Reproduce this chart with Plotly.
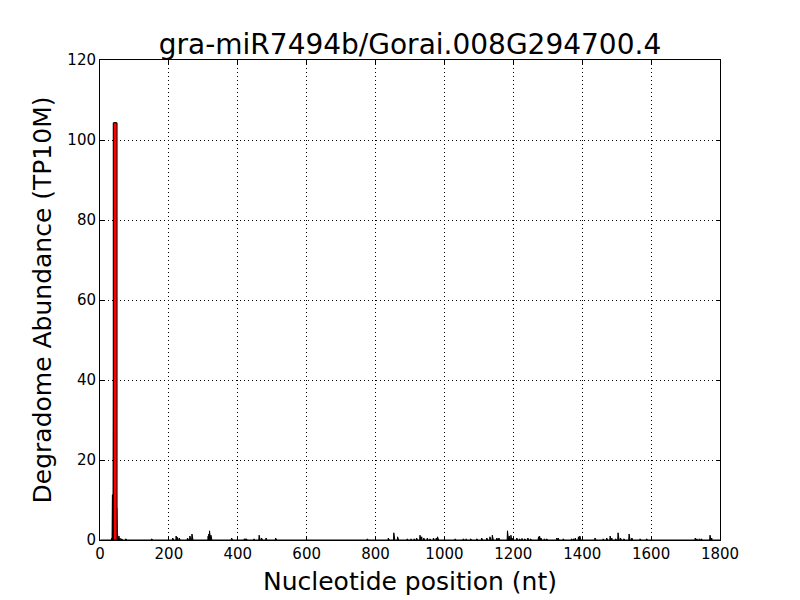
import plotly.graph_objects as go

title = "gra-miR7494b/Gorai.008G294700.4"
seq_length = 1800

# degradome tag positions (nt) and abundances (TP10M)
positions = [34, 36, 37, 39, 40, 41, 42, 43, 44, 45, 46, 47, 48, 49, 50, 52, 55, 58, 63, 75,
             150, 211, 221, 224, 230, 254, 261, 267, 314, 316, 318, 320, 322, 324, 382, 419, 422, 425,
             447, 462, 469, 482, 510, 776, 837, 853, 864, 892, 903, 912, 919, 929, 934, 940, 950,
             958, 968, 976, 980, 1031, 1055, 1063, 1076, 1094, 1108, 1123, 1132, 1139, 1152, 1158,
             1183, 1188, 1193, 1196, 1210, 1218, 1225, 1233, 1242, 1250, 1273, 1276, 1280, 1290,
             1297, 1326, 1330, 1345, 1369, 1375, 1380, 1389, 1393, 1437, 1461, 1471, 1481, 1486,
             1497, 1504, 1511, 1521, 1536, 1544, 1568, 1587, 1728, 1733, 1740, 1746, 1771, 1776]
abundance = [0.5, 11.3, 11.3, 104.3, 104.3, 104.3, 104.3, 104.3, 104.3, 104.3, 104.3, 104.3, 8.0, 8.0, 2.0, 1.5, 1.0, 0.5, 0.3, 0.3,
             0.3, 0.5, 1.0, 0.7, 0.5, 0.5, 1.0, 1.5, 1.0, 1.5, 2.3, 2.0, 1.2, 0.5, 0.5, 0.3, 0.3, 0.3,
             0.3, 1.2, 0.5, 0.5, 0.5, 0.3, 0.5, 1.8, 0.8, 0.3, 0.3, 0.3, 0.5, 1.2, 0.8, 0.5, 0.5,
             0.3, 0.5, 0.5, 0.8, 0.3, 0.3, 0.3, 0.3, 0.3, 0.5, 0.5, 0.8, 1.2, 0.5, 0.5,
             2.3, 1.0, 1.2, 0.5, 0.5, 0.3, 0.4, 0.3, 0.5, 0.3, 0.8, 1.0, 0.5, 0.3,
             0.3, 0.5, 0.5, 0.3, 0.3, 0.3, 0.5, 0.8, 1.0, 0.5, 0.3, 0.5, 1.0, 0.5,
             0.3, 1.8, 0.5, 0.3, 1.5, 0.5, 0.3, 0.3, 0.5, 0.3, 0.3, 0.3, 1.2, 0.5]

# cleavage site
site_pos = 44
site_abund = 104.3
site_width = 11

xticks = list(range(0, 1801, 200))
yticks = list(range(0, 121, 20))

# dense profile along the transcript
dense_x = list(range(1, seq_length + 1))
lookup = dict(zip(positions, abundance))
dense_y = [lookup.get(p, 0) for p in dense_x]

fig = go.Figure()
fig.add_trace(go.Scatter(x=dense_x, y=dense_y, mode="lines", fill="tozeroy",
                         line=dict(color="black", width=1), fillcolor="black",
                         hoverinfo="x+y", showlegend=False))
half = site_width / 2
fig.add_trace(go.Scatter(x=[site_pos - half, site_pos - half, site_pos + half, site_pos + half, site_pos - half],
                         y=[0, site_abund, site_abund, 0, 0], mode="lines", fill="toself",
                         fillcolor="red", line=dict(color="black", width=1), showlegend=False))

axis_common = dict(showline=True, linecolor="black", linewidth=1, mirror="allticks",
                   ticks="inside", ticklen=4, tickcolor="black", tickwidth=1,
                   showgrid=True, gridcolor="black", gridwidth=1, griddash="1px,3px",
                   zeroline=False, automargin=False,
                   tickfont=dict(family="DejaVu Sans", size=15, color="black"))

fig.update_xaxes(range=[0, 1800], tickvals=xticks, ticktext=[str(t) for t in xticks],
                 title=dict(text="Nucleotide position (nt)", font=dict(family="DejaVu Sans", size=25, color="black"), standoff=10),
                 **axis_common)
fig.update_yaxes(range=[0, 120], tickvals=yticks, ticktext=[str(t) for t in yticks],
                 title=dict(text="Degradome Abundance (TP10M)", font=dict(family="DejaVu Sans", size=25, color="black"), standoff=8),
                 **axis_common)

fig.update_layout(width=800, height=600, plot_bgcolor="white", paper_bgcolor="white",
                  margin=dict(l=92, r=88, t=52, b=68, autoexpand=False),
                  title=dict(text=title, x=402 / 800, xanchor="center", y=1 - 36 / 600, yanchor="middle",
                             font=dict(family="DejaVu Sans", size=28, color="black")),
                  showlegend=False)

fig.write_html("out.html")
